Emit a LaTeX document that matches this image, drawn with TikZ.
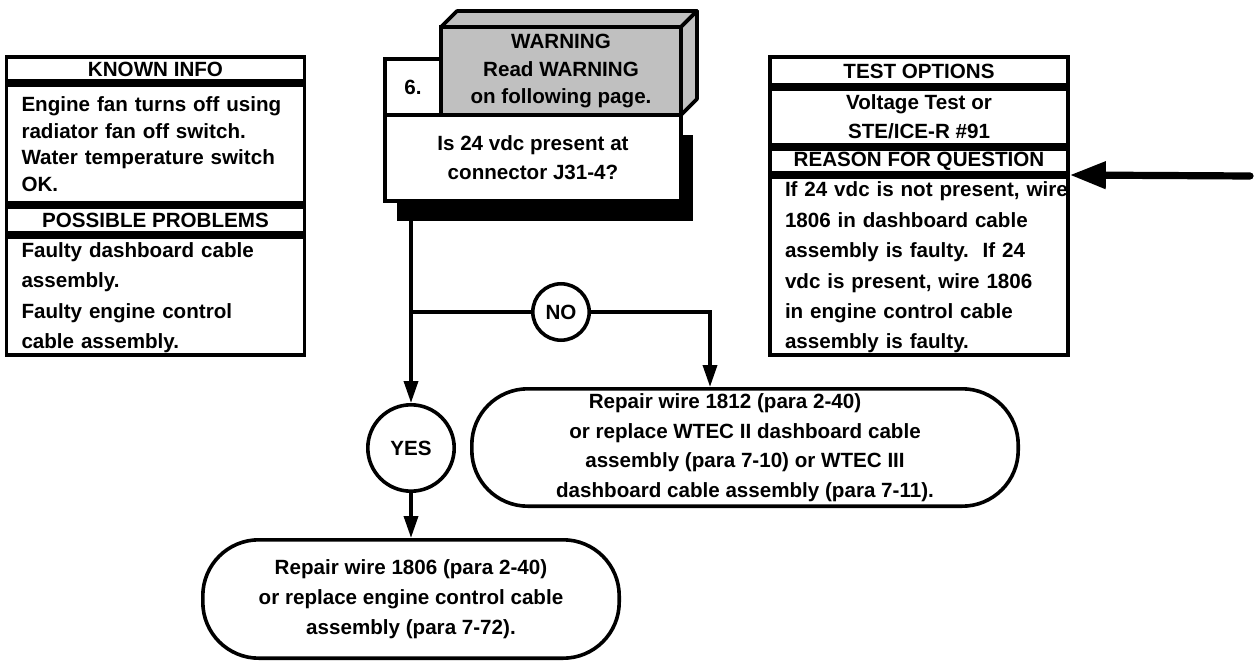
\documentclass[tikz,border=0pt]{standalone}
\usepackage{fontspec}
\setmainfont{Liberation Sans}
\usetikzlibrary{positioning,arrows.meta,shadows}

\definecolor{warngray}{RGB}{192,192,192}
\newcommand\chartfont[1]{\fontsize{10.3}{#1}\selectfont\bfseries\hyphenpenalty=10000}

\begin{document}
\begin{tikzpicture}[
  x=0.5pt, y=-0.5pt,
  line width=1.8pt,
  font=\chartfont{14},
  hdr/.style={draw, minimum width=149pt, inner sep=0pt, align=center},
  body/.style={draw, minimum width=149pt, text width=134pt, inner xsep=7.5pt, inner ysep=0pt, align=left},
  decision/.style={circle, draw, fill=white, inner sep=0pt},
  fix/.style={draw, rounded corners=28pt, align=center, inner sep=0pt, font=\chartfont{14.8}},
  flow/.style={-{Triangle[length=11pt,width=7pt]}},
  bigflow/.style={-{Triangle[length=18pt,width=13pt]}, line width=3.6pt, line cap=round}
]
\useasboundingbox (0,0) rectangle (1256,662);

% known info / possible problems
\node[hdr, minimum height=12.2pt, anchor=north] (known) at (155.5,55) {KNOWN INFO};
\node[body, minimum height=59.2pt, font=\chartfont{13.3}, below=0pt of known] (knowninfo)
  {Engine fan turns off using\\radiator fan off switch.\\Water temperature switch\\OK.};
\node[hdr, minimum height=13.2pt, below=0pt of knowninfo] (probs) {POSSIBLE PROBLEMS};
\node[body, minimum height=59.2pt, font=\chartfont{15.2}, below=0pt of probs] (probsinfo)
  {\rule{0pt}{9pt}Faulty dashboard cable\\assembly.\\Faulty engine control\\cable assembly.};

% test options / reason for question
\node[hdr, minimum height=14.2pt, anchor=north] (tests) at (919,55) {TEST OPTIONS};
\node[hdr, minimum height=28.2pt, font=\chartfont{14.5}, below=0pt of tests] (testsinfo)
  {Voltage Test or\\STE/ICE-R \#91};
\node[hdr, minimum height=12.2pt, below=0pt of testsinfo] (reasonhdr) {REASON FOR QUESTION};
\node[body, minimum height=89.2pt, font=\chartfont{15.2}, below=0pt of reasonhdr] (reason)
  {\rule{0pt}{9pt}\mbox{If 24 vdc is not present, wire}\\1806 in dashboard cable\\assembly is faulty.\ \ If 24\\vdc is present, wire 1806\\in engine control cable\\assembly is faulty.};

% step 6
\node[draw, fill=white, outer sep=0pt, minimum size=28pt, inner sep=0pt] (num) at (413,87) {6.};
\node[draw, fill=warngray, outer sep=0pt, minimum width=120pt, minimum height=44pt, inner sep=0pt, align=center, font=\chartfont{13.75}] (warn) at (561,71)
  {WARNING\\Read WARNING\\on following page.};
\draw[fill=warngray, line join=round] (warn.north west) -- ++(16,-16) -- ([shift={(16,-16)}]warn.north east) -- (warn.north east) -- cycle;
\draw[fill=warngray, line join=round] (warn.north east) -- ++(16,-16) -- ([shift={(16,-16)}]warn.south east) -- (warn.south east) -- cycle;
\node[draw, fill=white, outer sep=0pt, minimum width=148pt, minimum height=43pt, inner sep=0pt, align=center, font=\chartfont{14.5},
  drop shadow={shadow xshift=6pt, shadow yshift=-10pt, opacity=1, fill=black}] (q6) at (533,158)
  {Is 24 vdc present at\\connector J31-4?};

% answers
\node[decision, minimum size=43.2pt] (yes) at (411,448) {YES};
\node[decision, minimum size=28.2pt] (no) at (561,312) {NO};
\node[fix, minimum width=273.2pt, minimum height=58.7pt] (fixdash) at (745,447.5)
  {Repair wire 1812 (para 2-40)\hspace*{20pt}\\or replace WTEC II dashboard cable\\assembly (para 7-10) or WTEC III\\dashboard cable assembly (para 7-11).};
\node[fix, minimum width=208.2pt, minimum height=59.2pt, font=\chartfont{15}] (fixengine) at (411,599)
  {Repair wire 1806 (para 2-40)\\or replace engine control cable\\assembly (para 7-72).};

\coordinate (split) at (yes |- no);
\coordinate (reasonin) at (1250,176);

\draw[flow] (yes |- q6.south) -- (yes);
\draw (split) -- (no);
\draw[flow] (no) -| ([xshift=-17.5pt]fixdash.north);
\draw[flow] (yes) -- (yes |- fixengine.north);
\draw[bigflow] (reasonin) -- (reasonhdr.south east);
\end{tikzpicture}
\end{document}
